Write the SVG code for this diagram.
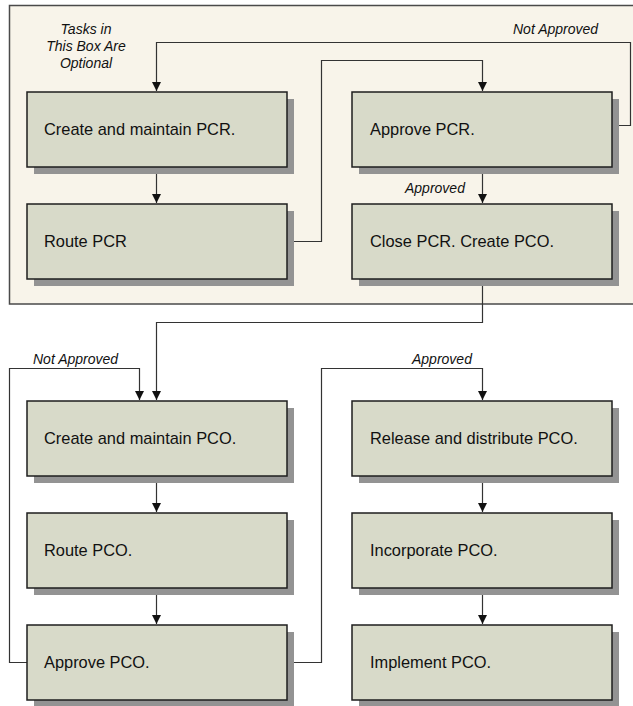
<svg xmlns="http://www.w3.org/2000/svg" width="633" height="706" viewBox="0 0 633 706">
<defs>
<style>
.shadow{fill:#939393}
.box{fill:#d8dac9;stroke:#1e1e1e;stroke-width:1.5}
.lbl{font-family:"Liberation Sans",Arial,sans-serif;font-size:16.4px;fill:#111}
.it{font-family:"Liberation Sans",Arial,sans-serif;font-size:14px;font-style:italic;fill:#111}
.con{fill:none;stroke:#333;stroke-width:1.2}
</style>
<marker id="arr" markerWidth="9" markerHeight="9" refX="9" refY="4.5" orient="auto" markerUnits="userSpaceOnUse">
<path d="M0,0 L9,4.5 L0,9 z" fill="#111"/>
</marker>
</defs>
<rect width="633" height="706" fill="#ffffff"/>
<g id="optional-area">
<rect x="9.5" y="5.5" width="640" height="298.5" fill="#f8f4ea" stroke="#4a4a4a" stroke-width="1.5"/>
<text class="it" text-anchor="middle"><tspan x="86" y="34">Tasks in</tspan><tspan x="86" y="51">This Box Are</tspan><tspan x="86" y="68">Optional</tspan></text>
</g>
<g id="connectors">
<path class="con" d="M156.5,167 V203" marker-end="url(#arr)"/>
<path class="con" d="M287,241.5 H321.5 V60.5 H482.5 V91" marker-end="url(#arr)"/>
<path class="con" d="M612,125.5 H630.5 V42.5 H156.5 V91" marker-end="url(#arr)"/>
<path class="con" d="M482.5,167 V203" marker-end="url(#arr)"/>
<path class="con" d="M482.5,279 V322.5 H156.5 V400" marker-end="url(#arr)"/>
<path class="con" d="M27,662.5 H9.5 V368.5 H139.5 V400" marker-end="url(#arr)"/>
<path class="con" d="M156.5,476 V512" marker-end="url(#arr)"/>
<path class="con" d="M156.5,588 V624" marker-end="url(#arr)"/>
<path class="con" d="M287,662.5 H321.5 V368.5 H482.5 V400" marker-end="url(#arr)"/>
<path class="con" d="M482.5,476 V512" marker-end="url(#arr)"/>
<path class="con" d="M482.5,588 V624" marker-end="url(#arr)"/>
<text class="it" x="513" y="34">Not Approved</text>
<text class="it" x="405" y="193">Approved</text>
<text class="it" x="33" y="364">Not Approved</text>
<text class="it" x="412" y="364">Approved</text>
</g>
<g id="create-pcr">
<rect class="shadow" x="34" y="99" width="260" height="75"/>
<rect class="box" x="27" y="92" width="260" height="75"/>
<text class="lbl" x="44" y="135">Create and maintain PCR.</text>
</g>
<g id="approve-pcr">
<rect class="shadow" x="359" y="99" width="260" height="75"/>
<rect class="box" x="352" y="92" width="260" height="75"/>
<text class="lbl" x="370" y="135">Approve PCR.</text>
</g>
<g id="route-pcr">
<rect class="shadow" x="34" y="211" width="260" height="75"/>
<rect class="box" x="27" y="204" width="260" height="75"/>
<text class="lbl" x="44" y="247">Route PCR</text>
</g>
<g id="close-pcr">
<rect class="shadow" x="359" y="211" width="260" height="75"/>
<rect class="box" x="352" y="204" width="260" height="75"/>
<text class="lbl" x="370" y="247">Close PCR. Create PCO.</text>
</g>
<g id="create-pco">
<rect class="shadow" x="34" y="408" width="260" height="75"/>
<rect class="box" x="27" y="401" width="260" height="75"/>
<text class="lbl" x="44" y="444">Create and maintain PCO.</text>
</g>
<g id="route-pco">
<rect class="shadow" x="34" y="520" width="260" height="75"/>
<rect class="box" x="27" y="513" width="260" height="75"/>
<text class="lbl" x="44" y="556">Route PCO.</text>
</g>
<g id="approve-pco">
<rect class="shadow" x="34" y="632" width="260" height="75"/>
<rect class="box" x="27" y="625" width="260" height="75"/>
<text class="lbl" x="44" y="668">Approve PCO.</text>
</g>
<g id="release-pco">
<rect class="shadow" x="359" y="408" width="260" height="75"/>
<rect class="box" x="352" y="401" width="260" height="75"/>
<text class="lbl" x="370" y="444">Release and distribute PCO.</text>
</g>
<g id="incorporate-pco">
<rect class="shadow" x="359" y="520" width="260" height="75"/>
<rect class="box" x="352" y="513" width="260" height="75"/>
<text class="lbl" x="370" y="556">Incorporate PCO.</text>
</g>
<g id="implement-pco">
<rect class="shadow" x="359" y="632" width="260" height="75"/>
<rect class="box" x="352" y="625" width="260" height="75"/>
<text class="lbl" x="370" y="668">Implement PCO.</text>
</g>
</svg>
